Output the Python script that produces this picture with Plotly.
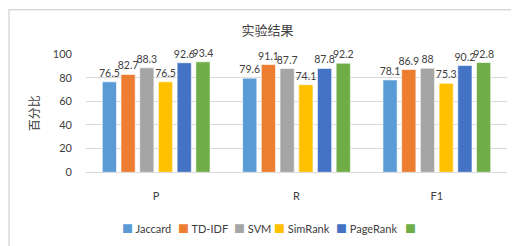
import plotly.graph_objects as go

categories = ["P", "R", "F1"]
series_names = ["Jaccard", "TD-IDF", "SVM", "SimRank", "PageRank", ""]
jaccard = [76.5, 79.6, 78.1]
tdidf = [82.7, 91.1, 86.9]
svm = [88.3, 87.7, 88]
simrank = [76.5, 74.1, 75.3]
pagerank = [92.6, 87.8, 90.2]
unnamed = [93.4, 92.2, 92.8]
series_values = [jaccard, tdidf, svm, simrank, pagerank, unnamed]
colors = ["#5B9BD5", "#ED7D31", "#A5A5A5", "#FFC000", "#4472C4", "#70AD47"]
y_ticks = [0, 20, 40, 60, 80, 100]
title_text = "实验结果"
y_title = "百分比"

FONT = "Lato, 'Noto Sans CJK SC', sans-serif"
W, H = 519, 246

fig = go.Figure()
for name, vals, col in zip(series_names, series_values, colors):
    fig.add_trace(go.Bar(
        x=categories, y=vals, name=name,
        marker=dict(color=col, line=dict(color="rgba(255,255,255,0.6)", width=1)),
        text=[f"{v:g}" for v in vals], textposition="outside", constraintext="none",
        textfont=dict(size=10.5, color="#404040", family=FONT),
        cliponaxis=False, showlegend=False,
    ))

# legend entries, one small legend per series for placement
legend_left_px = [115, 171, 227, 267, 329, 398]
legend_y_px = 221
for i, (name, col) in enumerate(zip(series_names, colors)):
    lname = "legend" if i == 0 else f"legend{i+1}"
    label = f'<span style="color:{col}">■</span>' + (f" {name}" if name else "")
    fig.add_trace(go.Scatter(
        x=[None], y=[None], mode="markers", name=label,
        marker=dict(size=1, color="rgba(0,0,0,0)"),
        legend=lname, showlegend=True,
    ))

layout_legends = {}
for i, lx in enumerate(legend_left_px):
    lname = "legend" if i == 0 else f"legend{i+1}"
    layout_legends[lname] = dict(
        xref="container", yref="container",
        x=(lx - 41) / W, y=1 - legend_y_px / H,
        xanchor="left", yanchor="middle",
        bgcolor="rgba(0,0,0,0)", borderwidth=0,
        font=dict(size=11, color="#404040", family=FONT),
        itemwidth=30, orientation="h",
    )

fig.update_layout(
    width=W, height=H,
    margin=dict(l=78, r=20, t=46, b=80),
    paper_bgcolor="white", plot_bgcolor="white",
    barmode="group", bargap=0.2, bargroupgap=0.24,
    title=dict(text=title_text, x=0.5, xanchor="center", y=1 - 22 / H, yanchor="middle",
               font=dict(size=13, color="#404040", family=FONT)),
    font=dict(family=FONT, color="#404040"),
    xaxis=dict(showgrid=False, showline=True, linecolor="#D9D9D9", linewidth=1,
               ticks="", tickfont=dict(size=11, color="#404040"), ticklabelstandoff=14),
    yaxis=dict(range=[0, 100], tickvals=y_ticks, showgrid=True, gridcolor="#D9D9D9",
               gridwidth=1, zeroline=False, showline=False, ticks="",
               tickfont=dict(size=11, color="#404040"), ticklabelstandoff=13,
               title=dict(text=y_title, standoff=10, font=dict(size=12, color="#404040"))),
    shapes=[dict(type="rect", xref="paper", yref="paper",
                 x0=-77 / 421, x1=(515 - 78) / 421, y0=-(241.5 - 166) / 120, y1=1 + 45 / 120,
                 line=dict(color="#D9D9D9", width=1.5), fillcolor="rgba(0,0,0,0)", layer="below")],
    **layout_legends,
)

fig.write_html("out.html")
